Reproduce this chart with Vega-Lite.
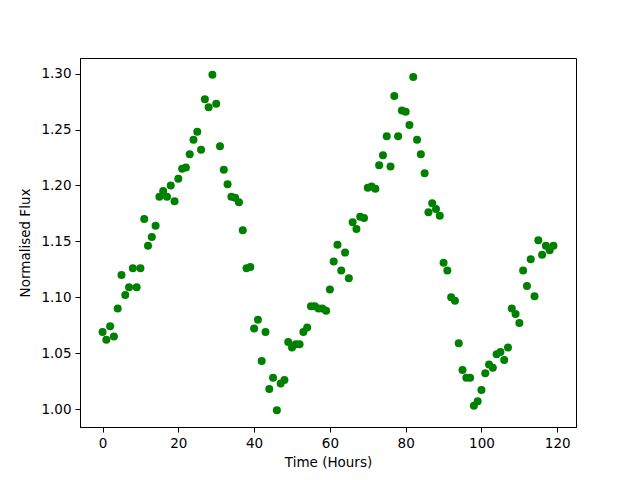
{
  "$schema": "https://vega.github.io/schema/vega-lite/v6.json",
  "width": 496,
  "height": 369,
  "autosize": {"type": "none"},
  "padding": {"left": 80, "top": 58, "right": 64, "bottom": 53},
  "background": "white",
  "config": {
    "view": {"stroke": "black", "strokeWidth": 1},
    "font": "DejaVu Sans",
    "axis": {
      "grid": false,
      "domainColor": "black",
      "tickColor": "black",
      "tickSize": 5,
      "labelPadding": 4,
      "labelColor": "black",
      "titleColor": "black",
      "labelFont": "DejaVu Sans",
      "titleFont": "DejaVu Sans",
      "labelFontSize": 13.5,
      "titleFontSize": 13.5,
      "titleFontWeight": "normal"
    }
  },
  "data": {
    "values": [
      {"t": 0, "f": 1.069}, {"t": 1, "f": 1.062}, {"t": 2, "f": 1.074}, {"t": 3, "f": 1.065},
      {"t": 4, "f": 1.090}, {"t": 5, "f": 1.120}, {"t": 6, "f": 1.102}, {"t": 7, "f": 1.109},
      {"t": 8, "f": 1.126}, {"t": 9, "f": 1.109}, {"t": 10, "f": 1.126}, {"t": 11, "f": 1.170},
      {"t": 12, "f": 1.146}, {"t": 13, "f": 1.154}, {"t": 14, "f": 1.164}, {"t": 15, "f": 1.190},
      {"t": 16, "f": 1.195}, {"t": 17, "f": 1.190}, {"t": 18, "f": 1.200}, {"t": 19, "f": 1.186},
      {"t": 20, "f": 1.206}, {"t": 21, "f": 1.215}, {"t": 22, "f": 1.216}, {"t": 23, "f": 1.228},
      {"t": 24, "f": 1.241}, {"t": 25, "f": 1.248}, {"t": 26, "f": 1.232}, {"t": 27, "f": 1.277},
      {"t": 28, "f": 1.270}, {"t": 29, "f": 1.299}, {"t": 30, "f": 1.273}, {"t": 31, "f": 1.235},
      {"t": 32, "f": 1.214}, {"t": 33, "f": 1.201}, {"t": 34, "f": 1.190}, {"t": 35, "f": 1.189},
      {"t": 36, "f": 1.185}, {"t": 37, "f": 1.160}, {"t": 38, "f": 1.126}, {"t": 39, "f": 1.127},
      {"t": 40, "f": 1.072}, {"t": 41, "f": 1.080}, {"t": 42, "f": 1.043}, {"t": 43, "f": 1.069},
      {"t": 44, "f": 1.018}, {"t": 45, "f": 1.028}, {"t": 46, "f": 0.999}, {"t": 47, "f": 1.023},
      {"t": 48, "f": 1.026}, {"t": 49, "f": 1.060}, {"t": 50, "f": 1.055}, {"t": 51, "f": 1.058},
      {"t": 52, "f": 1.058}, {"t": 53, "f": 1.069}, {"t": 54, "f": 1.073}, {"t": 55, "f": 1.092},
      {"t": 56, "f": 1.092}, {"t": 57, "f": 1.090}, {"t": 58, "f": 1.090}, {"t": 59, "f": 1.088},
      {"t": 60, "f": 1.107}, {"t": 61, "f": 1.132}, {"t": 62, "f": 1.147}, {"t": 63, "f": 1.124},
      {"t": 64, "f": 1.140}, {"t": 65, "f": 1.117}, {"t": 66, "f": 1.167}, {"t": 67, "f": 1.161},
      {"t": 68, "f": 1.172}, {"t": 69, "f": 1.171}, {"t": 70, "f": 1.198}, {"t": 71, "f": 1.199},
      {"t": 72, "f": 1.197}, {"t": 73, "f": 1.218}, {"t": 74, "f": 1.227}, {"t": 75, "f": 1.244},
      {"t": 76, "f": 1.217}, {"t": 77, "f": 1.280}, {"t": 78, "f": 1.244}, {"t": 79, "f": 1.267},
      {"t": 80, "f": 1.266}, {"t": 81, "f": 1.254}, {"t": 82, "f": 1.297}, {"t": 83, "f": 1.241},
      {"t": 84, "f": 1.228}, {"t": 85, "f": 1.211}, {"t": 86, "f": 1.176}, {"t": 87, "f": 1.184},
      {"t": 88, "f": 1.179}, {"t": 89, "f": 1.173}, {"t": 90, "f": 1.131}, {"t": 91, "f": 1.124},
      {"t": 92, "f": 1.100}, {"t": 93, "f": 1.097}, {"t": 94, "f": 1.059}, {"t": 95, "f": 1.035},
      {"t": 96, "f": 1.028}, {"t": 97, "f": 1.028}, {"t": 98, "f": 1.003}, {"t": 99, "f": 1.007},
      {"t": 100, "f": 1.017}, {"t": 101, "f": 1.032}, {"t": 102, "f": 1.040}, {"t": 103, "f": 1.037},
      {"t": 104, "f": 1.049}, {"t": 105, "f": 1.051}, {"t": 106, "f": 1.044}, {"t": 107, "f": 1.055},
      {"t": 108, "f": 1.090}, {"t": 109, "f": 1.085}, {"t": 110, "f": 1.077}, {"t": 111, "f": 1.124},
      {"t": 112, "f": 1.110}, {"t": 113, "f": 1.134}, {"t": 114, "f": 1.101}, {"t": 115, "f": 1.151},
      {"t": 116, "f": 1.138}, {"t": 117, "f": 1.146}, {"t": 118, "f": 1.142}, {"t": 119, "f": 1.146}
    ]
  },
  "mark": {"type": "circle", "color": "#008000", "opacity": 1, "size": 64},
  "encoding": {
    "x": {
      "field": "t", "type": "quantitative",
      "scale": {"domain": [-5.95, 124.95], "nice": false, "zero": false},
      "axis": {"values": [0, 20, 40, 60, 80, 100, 120], "title": "Time (Hours)", "titlePadding": 6}
    },
    "y": {
      "field": "f", "type": "quantitative",
      "scale": {"domain": [0.984, 1.314], "nice": false, "zero": false},
      "axis": {"values": [1.0, 1.05, 1.1, 1.15, 1.2, 1.25, 1.3], "format": ".2f", "title": "Normalised Flux", "titlePadding": 8}
    }
  }
}
